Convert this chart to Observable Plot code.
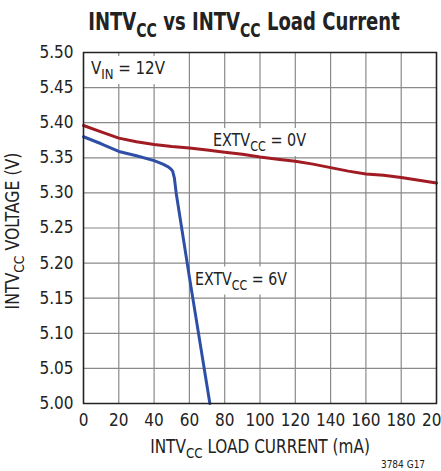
<!DOCTYPE html>
<html><head><meta charset="utf-8">
<script src="https://cdn.jsdelivr.net/npm/d3@7"></script>
<script src="https://cdn.jsdelivr.net/npm/@observablehq/plot@0.6"></script>
<style>body{margin:0;background:#fff;} svg{display:block}</style>
</head><body><div id="chart"></div>
<script>
// ---- data ----
const xTicks = [0, 20, 40, 60, 80, 100, 120, 140, 160, 180, 200];
const yTicks = [5.00, 5.05, 5.10, 5.15, 5.20, 5.25, 5.30, 5.35, 5.40, 5.45, 5.50];

const extv0Current = [0, 10, 20, 30, 40, 50, 60, 70, 80, 90, 100, 110, 120, 130, 140, 150, 160, 170, 180, 190, 200];
const extv0Voltage = [5.396, 5.387, 5.378, 5.373, 5.369, 5.366, 5.364, 5.361, 5.358, 5.355, 5.351, 5.348, 5.345, 5.341, 5.336, 5.331, 5.327, 5.325, 5.322, 5.318, 5.314];

const extv6Current = [0, 10, 20, 30, 40, 45, 48, 49.5, 50.5, 51.5, 52.5, 60, 71.6];
const extv6Voltage = [5.380, 5.370, 5.359, 5.353, 5.346, 5.341, 5.337, 5.334, 5.331, 5.321, 5.300, 5.180, 5.000];

const titleParts = [["INTV", false], ["CC", true], [" vs INTV", false], ["CC", true], [" Load Current", false]];
const xLabelParts = [["INTV", false], ["CC", true], [" LOAD CURRENT (mA)", false]];
const yLabelParts = [["INTV", false], ["CC", true], [" VOLTAGE (V)", false]];
const annotationX = [4.5, 73.65, 63.45];
const annotationY = [5.4687, 5.3661, 5.1688];
const annotationParts = [
  [["V", false], ["IN", true], [" = 12V", false]],
  [["EXTV", false], ["CC", true], [" = 0V", false]],
  [["EXTV", false], ["CC", true], [" = 6V", false]]
];
const figId = "3784 G17";

// ---- styles / layout ----
const RED = "#a01c22", BLUE = "#2f4fa6";
const FONT = "'DejaVu Sans Condensed', 'Liberation Sans Narrow', 'Arial Narrow', sans-serif";
const annotationWidths = [74, 93, 92];

const red = extv0Current.map((c, i) => ({c, v: extv0Voltage[i]}));
const blue = extv6Current.map((c, i) => ({c, v: extv6Voltage[i]}));

const chart = Plot.plot({
  width: 441, height: 471,
  marginLeft: 83, marginRight: 5, marginTop: 52, marginBottom: 68,
  style: {fontFamily: FONT, fontSize: "17px", color: "#222", background: "#fff", overflow: "visible"},
  x: {domain: [0, 200]},
  y: {domain: [5, 5.5]},
  marks: [
    Plot.gridX(xTicks, {stroke: "#8a8a8a", strokeOpacity: 1, strokeWidth: 1.2}),
    Plot.gridY(yTicks, {stroke: "#8a8a8a", strokeOpacity: 1, strokeWidth: 1.2}),
    Plot.axisX(xTicks, {tickSize: 0, tickPadding: 10, fontSize: 17, label: null, fill: "#222"}),
    Plot.axisY(yTicks, {tickSize: 0, tickPadding: 10, fontSize: 17, label: null, fill: "#222", tickFormat: d3.format(".2f")}),
    Plot.line(red, {x: "c", y: "v", stroke: RED, strokeWidth: 3}),
    Plot.line(blue, {x: "c", y: "v", stroke: BLUE, strokeWidth: 3}),
    Plot.frame({stroke: "#222", strokeWidth: 1.5})
  ]
});
document.getElementById("chart").appendChild(chart);

const sx = chart.scale("x"), sy = chart.scale("y");
const svg = d3.select(chart);

// text with subscripts, compressed horizontally to a target width
function rich(parent, x, y, parts, size, opts = {}) {
  const g = parent.append("g");
  const t = g.append("text")
    .attr("font-family", FONT).attr("font-size", size)
    .attr("fill", "#222")
    .attr("font-weight", opts.weight || "normal")
    .attr("text-anchor", opts.anchor || "start");
  let down = false;
  parts.forEach(([s, sub]) => {
    const ts = t.append("tspan").text(s);
    if (sub) { ts.attr("font-size", size * 0.78).attr("dy", size * 0.28); down = true; }
    else if (down) { ts.attr("dy", -size * 0.28); down = false; }
  });
  const b = t.node().getBBox();
  const k = opts.width ? opts.width / b.width : 1;
  g.attr("transform", `translate(${x},${y})${opts.rotate ? ` rotate(${opts.rotate})` : ""} scale(${k},1)`);
  if (opts.box) {
    g.insert("rect", "text").attr("x", b.x - 5).attr("y", b.y - 1)
      .attr("width", b.width + 10).attr("height", b.height + 3).attr("fill", "#fff");
  }
  return g;
}

// annotations (inserted below the lines)
const lineNode = chart.querySelector('g[aria-label="line"]');
const ann = document.createElementNS("http://www.w3.org/2000/svg", "g");
chart.insertBefore(ann, lineNode);
const annG = d3.select(ann);
annotationParts.forEach((parts, i) => {
  rich(annG, sx.apply(annotationX[i]), sy.apply(annotationY[i]), parts, 18, {width: annotationWidths[i], box: true});
});

// title & axis labels
rich(svg, 244, 30, titleParts, 25, {weight: "bold", anchor: "middle", width: 312});
rich(svg, 260, 453, xLabelParts, 19, {anchor: "middle", width: 220});
rich(svg, 19, 231, yLabelParts, 19, {anchor: "middle", rotate: -90, width: 157});
svg.append("text").attr("x", 403).attr("y", 468).attr("font-family", FONT)
  .attr("font-size", 10).attr("fill", "#222").text(figId);
</script></body></html>
